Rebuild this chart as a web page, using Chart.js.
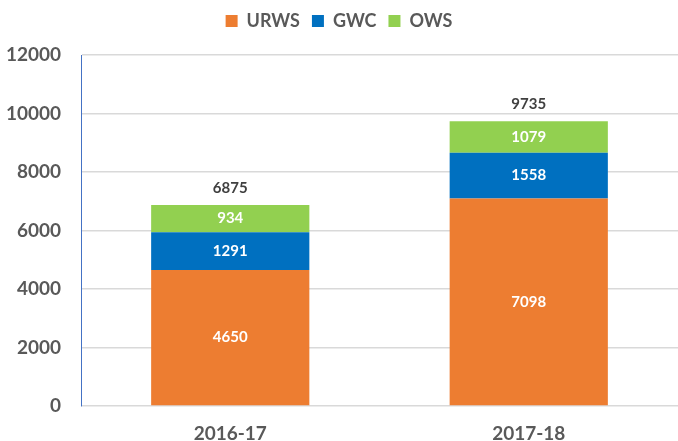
<!DOCTYPE html>
<html>
<head>
<meta charset="utf-8">
<script src="https://cdn.jsdelivr.net/npm/chart.js@4.4.0/dist/chart.umd.min.js"></script>
<style>
  html, body { margin: 0; padding: 0; background: #fff; }
  #wrap { width: 678px; height: 441px; }
</style>
</head>
<body>
<div id="wrap"><canvas id="myChart"></canvas></div>
<script>
const years = ['2016-17', '2017-18'];
const urws = [4650, 7098];
const gwc = [1291, 1558];
const ows = [934, 1079];
const totals = [6875, 9735];
const yTicks = [0, 2000, 4000, 6000, 8000, 10000, 12000];

const FONT = "Lato, 'Open Sans', sans-serif";

// labels inside each segment + total above the stack
const barLabels = {
  id: 'barLabels',
  afterDatasetsDraw(chart) {
    const ctx = chart.ctx;
    ctx.save();
    ctx.textAlign = 'center';
    ctx.textBaseline = 'middle';
    ctx.font = 'bold 15px ' + FONT;
    ctx.fillStyle = '#ffffff';
    chart.data.datasets.forEach((ds, i) => {
      chart.getDatasetMeta(i).data.forEach((bar, j) => {
        const mid = (bar.y + bar.base) / 2;
        ctx.fillText(ds.data[j], bar.x, mid);
      });
    });
    const yScale = chart.scales.y;
    const top = chart.getDatasetMeta(chart.data.datasets.length - 1).data;
    ctx.fillStyle = '#404040';
    totals.forEach((t, j) => {
      ctx.fillText(t, top[j].x, yScale.getPixelForValue(t) - 17);
    });
    ctx.restore();
  }
};

// extra room under the legend
const legendGap = {
  id: 'legendGap',
  beforeInit(chart) {
    const fit = chart.legend.fit;
    chart.legend.fit = function () {
      fit.bind(chart.legend)();
      this.height += 15;
    };
  }
};

new Chart(document.getElementById('myChart'), {
  type: 'bar',
  data: {
    labels: years,
    datasets: [
      { label: 'URWS', data: urws, backgroundColor: '#ED7D31' },
      { label: 'GWC', data: gwc, backgroundColor: '#0070C0' },
      { label: 'OWS', data: ows, backgroundColor: '#92D050' }
    ]
  },
  options: {
    responsive: true,
    maintainAspectRatio: false,
    animation: false,
    datasets: {
      bar: { barPercentage: 0.53, categoryPercentage: 1 }
    },
    plugins: {
      legend: {
        position: 'top',
        labels: {
          boxWidth: 12,
          boxHeight: 12,
          padding: 12,
          color: '#595959',
          font: { family: FONT, size: 18, weight: 'bold' }
        }
      },
      tooltip: { enabled: false }
    },
    scales: {
      x: {
        stacked: true,
        grid: { display: false },
        border: { display: false },
        ticks: {
          color: '#595959',
          padding: 8,
          font: { family: FONT, size: 19, weight: 'bold' }
        },
        afterFit(s) { s.height = 35; }
      },
      y: {
        stacked: true,
        min: 0,
        max: 12000,
        afterBuildTicks(s) { s.ticks = yTicks.map(v => ({ value: v })); },
        grid: { color: '#D9D9D9', lineWidth: 1.5, drawTicks: false },
        border: { display: true, color: '#4472C4', width: 1 },
        ticks: {
          color: '#595959',
          padding: 20,
          callback: v => String(v),
          font: { family: FONT, size: 19, weight: 'bold' }
        },
        afterFit(s) { s.width = 81; }
      }
    }
  },
  plugins: [barLabels, legendGap]
});
</script>
</body>
</html>
